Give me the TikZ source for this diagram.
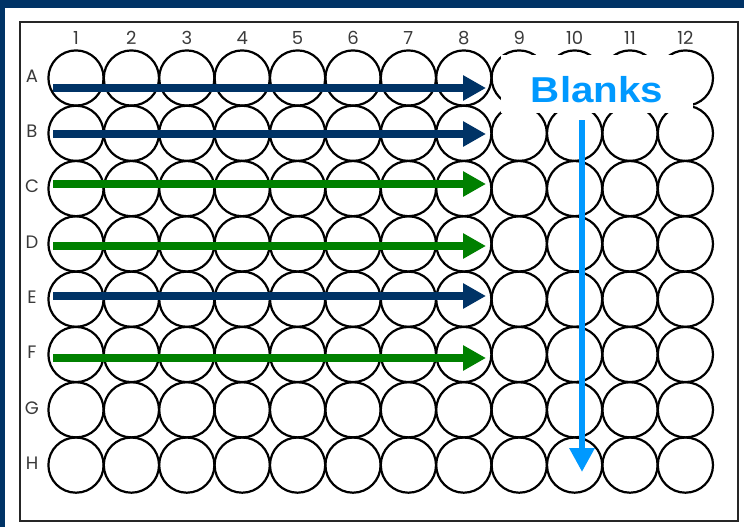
\documentclass[tikz,border=0pt]{standalone}
\usepackage{fontspec}
\setmainfont{Liberation Sans}
\newfontfamily\labfont{Poppins}
\usetikzlibrary{arrows.meta}
\definecolor{navy}{HTML}{003366}
\definecolor{pgreen}{HTML}{008000}
\definecolor{lblue}{HTML}{0099FF}
\definecolor{labgray}{HTML}{3A3A3A}
\tikzset{
  well/.style={draw=black, line width=2.2pt},
  lab/.style={font=\labfont\fontsize{18}{18}\selectfont, text=labgray, inner sep=0pt},
  navyarrow/.style={draw=navy, line width=8pt, -{Triangle[length=23pt,width=24pt]}},
  greenarrow/.style={draw=pgreen, line width=8pt, -{Triangle[length=23pt,width=24pt]}},
  bluearrow/.style={draw=lblue, line width=6pt, -{Triangle[length=24pt,width=24pt]}},
}
\begin{document}
\begin{tikzpicture}[x=1pt,y=-1pt]
\useasboundingbox (0,0) rectangle (744,527);
\fill[navy] (0,0) rectangle (744,527);
\fill[white] (5,8) rectangle (744,527);
\draw[line width=2.2pt, draw=black!85] (20,22) rectangle (738,521);
% wells
\foreach \r in {1,...,8}{
  \foreach \c in {1,...,12}{
    \draw[well] ({76+55.4*(\c-1)},{78+55.3*(\r-1)}) circle (27.6);
  }
}
% column labels
\foreach \c in {1,...,12}{
  \node[lab] (col\c) at ({76+55.4*(\c-1)},38) {\c};
}
% row labels
\foreach \l [count=\r] in {A,B,C,D,E,F,G,H}{
  \node[lab] (row\l) at (32,{76+55.3*(\r-1)}) {\l};
}
% arrows
\coordinate (aS) at (53,88);  \coordinate (aE) at (486,88);
\coordinate (bS) at (53,134); \coordinate (bE) at (486,134);
\coordinate (cS) at (53,184); \coordinate (cE) at (486,184);
\coordinate (dS) at (53,246); \coordinate (dE) at (486,246);
\coordinate (eS) at (53,296); \coordinate (eE) at (486,296);
\coordinate (fS) at (53,358); \coordinate (fE) at (486,358);
\draw[navyarrow] (aS) -- (aE);
\draw[navyarrow] (bS) -- (bE);
\draw[greenarrow] (cS) -- (cE);
\draw[greenarrow] (dS) -- (dE);
\draw[navyarrow] (eS) -- (eE);
\draw[greenarrow] (fS) -- (fE);
% blanks
\node[fill=white, minimum width=192pt, minimum height=58pt, inner sep=0pt] (blankbox) at (597,84) {};
\node[text=lblue, font=\bfseries\fontsize{36}{36}\selectfont, xscale=1.12, inner sep=0pt] (blanks) at (597,90) {Blanks};
\coordinate (blueS) at (582,120);
\coordinate (blueE) at (582,472);
\draw[bluearrow] (blueS) -- (blueE);
\end{tikzpicture}
\end{document}
